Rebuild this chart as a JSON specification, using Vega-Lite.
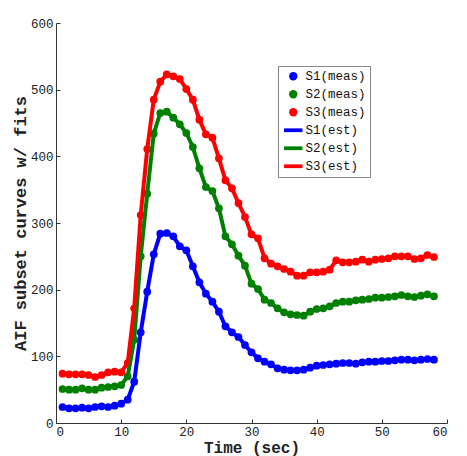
{
"$schema":"https://vega.github.io/schema/vega-lite/v6.json",
"width":391,"height":400,
"autosize":{"type":"none"},
"padding":{"left":56,"top":23,"right":20,"bottom":33},
"background":"white",
"config":{"view":{"stroke":null},
 "axis":{"grid":false,"domainColor":"#333","tickColor":"#333","labelColor":"#222","labelFont":"Liberation Mono","labelFontSize":12.5,"titleFont":"Liberation Mono","titleFontWeight":"bold","titleColor":"#222","tickSize":-4,"labelPadding":8},
 "legend":{"labelFont":"Liberation Mono"}},
"datasets":{"d":[
{"t":1,"v":24,"m":"S1(meas)","e":"S1(est)"},{"t":2,"v":22,"m":"S1(meas)","e":"S1(est)"},{"t":3,"v":22,"m":"S1(meas)","e":"S1(est)"},{"t":4,"v":23,"m":"S1(meas)","e":"S1(est)"},{"t":5,"v":22,"m":"S1(meas)","e":"S1(est)"},{"t":6,"v":24,"m":"S1(meas)","e":"S1(est)"},{"t":7,"v":25,"m":"S1(meas)","e":"S1(est)"},{"t":8,"v":24,"m":"S1(meas)","e":"S1(est)"},{"t":9,"v":26,"m":"S1(meas)","e":"S1(est)"},{"t":10,"v":29,"m":"S1(meas)","e":"S1(est)"},
{"t":11,"v":35,"m":"S1(meas)","e":"S1(est)"},{"t":12,"v":62,"m":"S1(meas)","e":"S1(est)"},{"t":13,"v":136,"m":"S1(meas)","e":"S1(est)"},{"t":14,"v":197,"m":"S1(meas)","e":"S1(est)"},{"t":15,"v":253,"m":"S1(meas)","e":"S1(est)"},{"t":16,"v":284,"m":"S1(meas)","e":"S1(est)"},{"t":17,"v":285,"m":"S1(meas)","e":"S1(est)"},{"t":18,"v":280,"m":"S1(meas)","e":"S1(est)"},{"t":19,"v":265,"m":"S1(meas)","e":"S1(est)"},{"t":20,"v":259,"m":"S1(meas)","e":"S1(est)"},
{"t":21,"v":235,"m":"S1(meas)","e":"S1(est)"},{"t":22,"v":211,"m":"S1(meas)","e":"S1(est)"},{"t":23,"v":194,"m":"S1(meas)","e":"S1(est)"},{"t":24,"v":182,"m":"S1(meas)","e":"S1(est)"},{"t":25,"v":167,"m":"S1(meas)","e":"S1(est)"},{"t":26,"v":145,"m":"S1(meas)","e":"S1(est)"},{"t":27,"v":136,"m":"S1(meas)","e":"S1(est)"},{"t":28,"v":129,"m":"S1(meas)","e":"S1(est)"},{"t":29,"v":117,"m":"S1(meas)","e":"S1(est)"},{"t":30,"v":106,"m":"S1(meas)","e":"S1(est)"},
{"t":31,"v":97,"m":"S1(meas)","e":"S1(est)"},{"t":32,"v":92,"m":"S1(meas)","e":"S1(est)"},{"t":33,"v":88,"m":"S1(meas)","e":"S1(est)"},{"t":34,"v":82,"m":"S1(meas)","e":"S1(est)"},{"t":35,"v":80,"m":"S1(meas)","e":"S1(est)"},{"t":36,"v":79,"m":"S1(meas)","e":"S1(est)"},{"t":37,"v":79,"m":"S1(meas)","e":"S1(est)"},{"t":38,"v":80,"m":"S1(meas)","e":"S1(est)"},{"t":39,"v":83,"m":"S1(meas)","e":"S1(est)"},{"t":40,"v":86,"m":"S1(meas)","e":"S1(est)"},
{"t":41,"v":87,"m":"S1(meas)","e":"S1(est)"},{"t":42,"v":88,"m":"S1(meas)","e":"S1(est)"},{"t":43,"v":89,"m":"S1(meas)","e":"S1(est)"},{"t":44,"v":90,"m":"S1(meas)","e":"S1(est)"},{"t":45,"v":90,"m":"S1(meas)","e":"S1(est)"},{"t":46,"v":89,"m":"S1(meas)","e":"S1(est)"},{"t":47,"v":91,"m":"S1(meas)","e":"S1(est)"},{"t":48,"v":92,"m":"S1(meas)","e":"S1(est)"},{"t":49,"v":92,"m":"S1(meas)","e":"S1(est)"},{"t":50,"v":93,"m":"S1(meas)","e":"S1(est)"},
{"t":51,"v":93,"m":"S1(meas)","e":"S1(est)"},{"t":52,"v":94,"m":"S1(meas)","e":"S1(est)"},{"t":53,"v":95,"m":"S1(meas)","e":"S1(est)"},{"t":54,"v":95,"m":"S1(meas)","e":"S1(est)"},{"t":55,"v":94,"m":"S1(meas)","e":"S1(est)"},{"t":56,"v":95,"m":"S1(meas)","e":"S1(est)"},{"t":57,"v":96,"m":"S1(meas)","e":"S1(est)"},{"t":58,"v":95,"m":"S1(meas)","e":"S1(est)"},
{"t":1,"v":51,"m":"S2(meas)","e":"S2(est)"},{"t":2,"v":50,"m":"S2(meas)","e":"S2(est)"},{"t":3,"v":50,"m":"S2(meas)","e":"S2(est)"},{"t":4,"v":52,"m":"S2(meas)","e":"S2(est)"},{"t":5,"v":50,"m":"S2(meas)","e":"S2(est)"},{"t":6,"v":50,"m":"S2(meas)","e":"S2(est)"},{"t":7,"v":53,"m":"S2(meas)","e":"S2(est)"},{"t":8,"v":54,"m":"S2(meas)","e":"S2(est)"},{"t":9,"v":55,"m":"S2(meas)","e":"S2(est)"},{"t":10,"v":57,"m":"S2(meas)","e":"S2(est)"},
{"t":11,"v":70,"m":"S2(meas)","e":"S2(est)"},{"t":12,"v":125,"m":"S2(meas)","e":"S2(est)"},{"t":13,"v":250,"m":"S2(meas)","e":"S2(est)"},{"t":14,"v":344,"m":"S2(meas)","e":"S2(est)"},{"t":15,"v":434,"m":"S2(meas)","e":"S2(est)"},{"t":16,"v":465,"m":"S2(meas)","e":"S2(est)"},{"t":17,"v":467,"m":"S2(meas)","e":"S2(est)"},{"t":18,"v":458,"m":"S2(meas)","e":"S2(est)"},{"t":19,"v":448,"m":"S2(meas)","e":"S2(est)"},{"t":20,"v":435,"m":"S2(meas)","e":"S2(est)"},
{"t":21,"v":414,"m":"S2(meas)","e":"S2(est)"},{"t":22,"v":382,"m":"S2(meas)","e":"S2(est)"},{"t":23,"v":354,"m":"S2(meas)","e":"S2(est)"},{"t":24,"v":348,"m":"S2(meas)","e":"S2(est)"},{"t":25,"v":322,"m":"S2(meas)","e":"S2(est)"},{"t":26,"v":280,"m":"S2(meas)","e":"S2(est)"},{"t":27,"v":268,"m":"S2(meas)","e":"S2(est)"},{"t":28,"v":251,"m":"S2(meas)","e":"S2(est)"},{"t":29,"v":236,"m":"S2(meas)","e":"S2(est)"},{"t":30,"v":209,"m":"S2(meas)","e":"S2(est)"},
{"t":31,"v":201,"m":"S2(meas)","e":"S2(est)"},{"t":32,"v":185,"m":"S2(meas)","e":"S2(est)"},{"t":33,"v":180,"m":"S2(meas)","e":"S2(est)"},{"t":34,"v":172,"m":"S2(meas)","e":"S2(est)"},{"t":35,"v":166,"m":"S2(meas)","e":"S2(est)"},{"t":36,"v":163,"m":"S2(meas)","e":"S2(est)"},{"t":37,"v":162,"m":"S2(meas)","e":"S2(est)"},{"t":38,"v":161,"m":"S2(meas)","e":"S2(est)"},{"t":39,"v":167,"m":"S2(meas)","e":"S2(est)"},{"t":40,"v":171,"m":"S2(meas)","e":"S2(est)"},
{"t":41,"v":172,"m":"S2(meas)","e":"S2(est)"},{"t":42,"v":175,"m":"S2(meas)","e":"S2(est)"},{"t":43,"v":180,"m":"S2(meas)","e":"S2(est)"},{"t":44,"v":182,"m":"S2(meas)","e":"S2(est)"},{"t":45,"v":182,"m":"S2(meas)","e":"S2(est)"},{"t":46,"v":184,"m":"S2(meas)","e":"S2(est)"},{"t":47,"v":185,"m":"S2(meas)","e":"S2(est)"},{"t":48,"v":186,"m":"S2(meas)","e":"S2(est)"},{"t":49,"v":188,"m":"S2(meas)","e":"S2(est)"},{"t":50,"v":188,"m":"S2(meas)","e":"S2(est)"},
{"t":51,"v":189,"m":"S2(meas)","e":"S2(est)"},{"t":52,"v":190,"m":"S2(meas)","e":"S2(est)"},{"t":53,"v":192,"m":"S2(meas)","e":"S2(est)"},{"t":54,"v":190,"m":"S2(meas)","e":"S2(est)"},{"t":55,"v":189,"m":"S2(meas)","e":"S2(est)"},{"t":56,"v":191,"m":"S2(meas)","e":"S2(est)"},{"t":57,"v":193,"m":"S2(meas)","e":"S2(est)"},{"t":58,"v":190,"m":"S2(meas)","e":"S2(est)"},
{"t":1,"v":74,"m":"S3(meas)","e":"S3(est)"},{"t":2,"v":73,"m":"S3(meas)","e":"S3(est)"},{"t":3,"v":73,"m":"S3(meas)","e":"S3(est)"},{"t":4,"v":73,"m":"S3(meas)","e":"S3(est)"},{"t":5,"v":72,"m":"S3(meas)","e":"S3(est)"},{"t":6,"v":69,"m":"S3(meas)","e":"S3(est)"},{"t":7,"v":72,"m":"S3(meas)","e":"S3(est)"},{"t":8,"v":76,"m":"S3(meas)","e":"S3(est)"},{"t":9,"v":77,"m":"S3(meas)","e":"S3(est)"},{"t":10,"v":76,"m":"S3(meas)","e":"S3(est)"},
{"t":11,"v":90,"m":"S3(meas)","e":"S3(est)"},{"t":12,"v":172,"m":"S3(meas)","e":"S3(est)"},{"t":13,"v":312,"m":"S3(meas)","e":"S3(est)"},{"t":14,"v":411,"m":"S3(meas)","e":"S3(est)"},{"t":15,"v":485,"m":"S3(meas)","e":"S3(est)"},{"t":16,"v":512,"m":"S3(meas)","e":"S3(est)"},{"t":17,"v":523,"m":"S3(meas)","e":"S3(est)"},{"t":18,"v":520,"m":"S3(meas)","e":"S3(est)"},{"t":19,"v":516,"m":"S3(meas)","e":"S3(est)"},{"t":20,"v":501,"m":"S3(meas)","e":"S3(est)"},
{"t":21,"v":485,"m":"S3(meas)","e":"S3(est)"},{"t":22,"v":455,"m":"S3(meas)","e":"S3(est)"},{"t":23,"v":433,"m":"S3(meas)","e":"S3(est)"},{"t":24,"v":428,"m":"S3(meas)","e":"S3(est)"},{"t":25,"v":397,"m":"S3(meas)","e":"S3(est)"},{"t":26,"v":364,"m":"S3(meas)","e":"S3(est)"},{"t":27,"v":352,"m":"S3(meas)","e":"S3(est)"},{"t":28,"v":330,"m":"S3(meas)","e":"S3(est)"},{"t":29,"v":309,"m":"S3(meas)","e":"S3(est)"},{"t":30,"v":283,"m":"S3(meas)","e":"S3(est)"},
{"t":31,"v":277,"m":"S3(meas)","e":"S3(est)"},{"t":32,"v":247,"m":"S3(meas)","e":"S3(est)"},{"t":33,"v":239,"m":"S3(meas)","e":"S3(est)"},{"t":34,"v":235,"m":"S3(meas)","e":"S3(est)"},{"t":35,"v":231,"m":"S3(meas)","e":"S3(est)"},{"t":36,"v":227,"m":"S3(meas)","e":"S3(est)"},{"t":37,"v":221,"m":"S3(meas)","e":"S3(est)"},{"t":38,"v":221,"m":"S3(meas)","e":"S3(est)"},{"t":39,"v":226,"m":"S3(meas)","e":"S3(est)"},{"t":40,"v":226,"m":"S3(meas)","e":"S3(est)"},
{"t":41,"v":227,"m":"S3(meas)","e":"S3(est)"},{"t":42,"v":230,"m":"S3(meas)","e":"S3(est)"},{"t":43,"v":244,"m":"S3(meas)","e":"S3(est)"},{"t":44,"v":241,"m":"S3(meas)","e":"S3(est)"},{"t":45,"v":241,"m":"S3(meas)","e":"S3(est)"},{"t":46,"v":242,"m":"S3(meas)","e":"S3(est)"},{"t":47,"v":245,"m":"S3(meas)","e":"S3(est)"},{"t":48,"v":242,"m":"S3(meas)","e":"S3(est)"},{"t":49,"v":245,"m":"S3(meas)","e":"S3(est)"},{"t":50,"v":246,"m":"S3(meas)","e":"S3(est)"},
{"t":51,"v":247,"m":"S3(meas)","e":"S3(est)"},{"t":52,"v":250,"m":"S3(meas)","e":"S3(est)"},{"t":53,"v":250,"m":"S3(meas)","e":"S3(est)"},{"t":54,"v":250,"m":"S3(meas)","e":"S3(est)"},{"t":55,"v":246,"m":"S3(meas)","e":"S3(est)"},{"t":56,"v":247,"m":"S3(meas)","e":"S3(est)"},{"t":57,"v":252,"m":"S3(meas)","e":"S3(est)"},{"t":58,"v":249,"m":"S3(meas)","e":"S3(est)"}
]},
"data":{"name":"d"},
"encoding":{
 "x":{"field":"t","type":"quantitative","scale":{"domain":[0,60],"nice":false},"axis":{"values":[0,10,20,30,40,50,60],"title":"Time (sec)","titleFontSize":16,"titleY":16,"titleBaseline":"top","labelPadding":6}},
 "y":{"field":"v","type":"quantitative","scale":{"domain":[0,600],"nice":false},"axis":{"values":[0,100,200,300,400,500,600],"title":"AIF subset curves w/ fits","titleFontSize":17,"titleX":-36,"titleBaseline":"middle","labelPadding":7}}
},
"layer":[
 {"mark":{"type":"point","filled":true,"opacity":1,"size":60},
  "encoding":{
   "color":{"field":"m","type":"nominal","scale":{"domain":["S1(meas)","S2(meas)","S3(meas)","S1(est)","S2(est)","S3(est)"],"range":["#0000ff","#008000","#ff0000","#0000ff","#008000","#ff0000"]},
    "legend":{"title":null,"orient":"none","legendX":222,"legendY":43,"strokeColor":"#888","fillColor":"white","padding":4,"labelFontSize":12.5,"labelColor":"#111","labelOffset":6,"symbolOffset":5,"symbolSize":70,"symbolStrokeWidth":0,"symbolOpacity":1,"rowPadding":5}},
   "shape":{"field":"m","type":"nominal","scale":{"domain":["S1(meas)","S2(meas)","S3(meas)","S1(est)","S2(est)","S3(est)"],"range":["circle","circle","circle","M-2.2,-0.45H2.2V0.45H-2.2Z","M-2.2,-0.45H2.2V0.45H-2.2Z","M-2.2,-0.45H2.2V0.45H-2.2Z"]},
    "legend":{"title":null,"orient":"none","legendX":222,"legendY":43,"strokeColor":"#888","fillColor":"white","padding":4,"labelFontSize":12.5,"labelColor":"#111","labelOffset":6,"symbolOffset":5,"symbolSize":70,"symbolStrokeWidth":0,"symbolOpacity":1,"rowPadding":5}}
  }},
 {"mark":{"type":"line","strokeWidth":4},
  "encoding":{"color":{"field":"e","type":"nominal"},"detail":{"field":"e"}}}
]
}
